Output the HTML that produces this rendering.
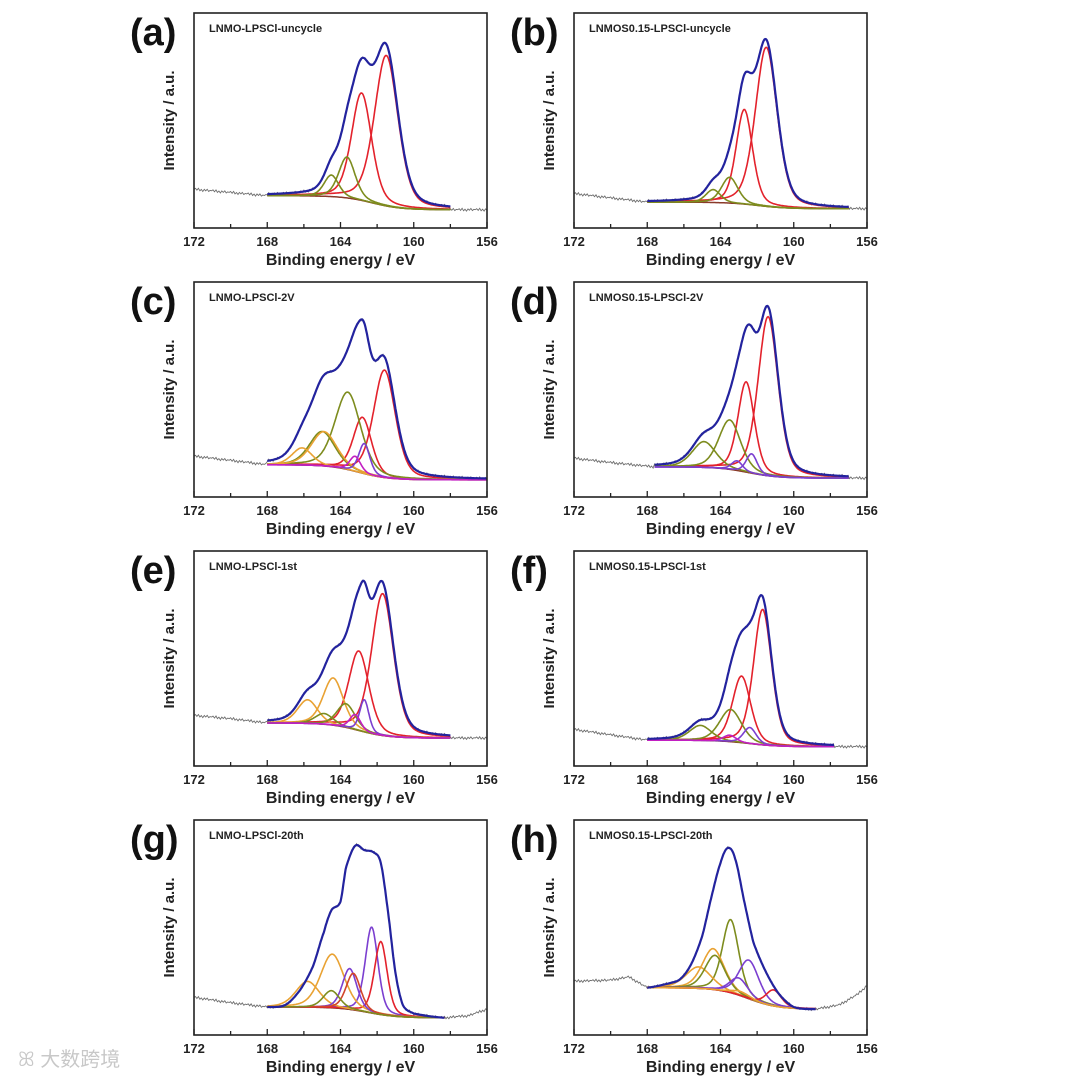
<!DOCTYPE html>
<html><head><meta charset="utf-8"><style>
html,body{margin:0;padding:0;background:#fff;}
svg{display:block;font-family:"Liberation Sans","Noto Sans CJK SC",sans-serif;}
</style></head><body>
<svg id="fig" width="1080" height="1080" viewBox="0 0 1080 1080" xmlns="http://www.w3.org/2000/svg">
<text x="18" y="1066" font-size="20" fill="#c8c8c8">ꕤ 大数跨境</text>
</svg>
<script>
// ---- data ----
const panelLetters = ["(a)","(b)","(c)","(d)","(e)","(f)","(g)","(h)"];
const panelTitles = ["LNMO-LPSCl-uncycle","LNMOS0.15-LPSCl-uncycle","LNMO-LPSCl-2V","LNMOS0.15-LPSCl-2V","LNMO-LPSCl-1st","LNMOS0.15-LPSCl-1st","LNMO-LPSCl-20th","LNMOS0.15-LPSCl-20th"];
const xTicks = [172,168,164,160,156];
const xTickLabels = ["172","168","164","160","156"];
// fit ranges [start eV, end eV]
const fitRanges = [[168,158],[168,157],[168,156],[167.6,157],[168,158],[168,157.8],[168,158.3],[168,158.8]];
// background [high, low, mid eV]
const bgParams = [[0.15,0.085,162.3],[0.12,0.09,162],[0.15,0.08,163],[0.14,0.088,162.5],[0.20,0.13,163],[0.12,0.09,162.5],[0.13,0.08,162.5],[0.22,0.12,162.5]];
// raw data outside the fit window [eV, intensity fraction]
const rawLeft = [[[172,0.18],[170,0.165],[168,0.15]],[[172,0.16],[170,0.14],[168,0.12]],[[172,0.19],[170,0.17],[168,0.15]],[[172,0.18],[170,0.16],[167.6,0.14]],[[172,0.235],[170,0.22],[168,0.20]],[[172,0.17],[170,0.145],[168,0.12]],[[172,0.175],[170,0.15],[168,0.13]],[[172,0.25],[170,0.255],[169,0.27],[168,0.22]]];
const rawRight = [[[158,0.085],[156,0.085]],[[157,0.09],[156,0.09]],[[156,0.08],[156,0.08]],[[157,0.088],[156,0.088]],[[158,0.13],[156,0.13]],[[157.8,0.09],[156,0.09]],[[158.3,0.08],[157,0.09],[156,0.12]],[[158.8,0.12],[157.5,0.14],[156.5,0.19],[156,0.23]]];
// peaks [center eV, height, sigma] (pseudo-Voigt shape)
const peaksA = [[161.5,0.70,0.65],[162.85,0.50,0.55],[163.65,0.19,0.45],[164.5,0.10,0.4]];
const peaksB = [[161.5,0.74,0.6],[162.7,0.44,0.45],[163.5,0.12,0.45],[164.4,0.06,0.4]];
const peaksC = [[161.6,0.50,0.6],[162.8,0.26,0.5],[163.6,0.36,0.7],[165.0,0.16,0.7],[164.9,0.16,0.7],[166.1,0.08,0.55],[162.7,0.14,0.3],[163.2,0.07,0.3]];
const peaksD = [[161.4,0.74,0.55],[162.6,0.42,0.45],[163.5,0.23,0.6],[164.9,0.12,0.65],[162.3,0.09,0.3],[163.1,0.045,0.3]];
const peaksE = [[161.7,0.66,0.6],[163.0,0.37,0.55],[164.4,0.22,0.55],[165.8,0.11,0.55],[163.7,0.11,0.5],[164.9,0.05,0.5],[162.7,0.15,0.25],[163.2,0.07,0.3]];
const peaksF = [[161.7,0.63,0.5],[162.85,0.31,0.5],[163.45,0.15,0.6],[165.1,0.07,0.6],[162.4,0.075,0.35],[163.5,0.03,0.35]];
const peaksG = [[162.3,0.40,0.35],[161.8,0.34,0.35],[164.45,0.25,0.65],[165.8,0.12,0.65],[163.5,0.19,0.4],[163.3,0.17,0.4],[164.5,0.08,0.45]];
const peaksH = [[163.45,0.34,0.45],[164.4,0.19,0.6],[165.2,0.10,0.7],[164.3,0.16,0.55],[162.45,0.18,0.55],[163.0,0.08,0.5],[161.1,0.075,0.42],[162.9,0.02,0.5]];
// explicit envelopes (null -> sum of peaks)
const envG = [[168,0.13],[167,0.14],[166.2,0.21],[165.5,0.32],[164.9,0.48],[164.5,0.58],[164.0,0.62],[163.7,0.78],[163.2,0.88],[162.7,0.86],[162.2,0.85],[161.8,0.80],[161.4,0.57],[161.0,0.29],[160.6,0.14],[160.0,0.10],[158.3,0.08]];
const envH = [[168,0.22],[166.8,0.24],[166.2,0.26],[165.6,0.33],[165,0.46],[164.5,0.64],[164.0,0.80],[163.6,0.87],[163.2,0.82],[162.7,0.62],[162.2,0.43],[161.5,0.29],[160.8,0.19],[160.0,0.13],[158.8,0.12]];
</script>
<script>
const RED="#e3222c",OLV="#7d8c1e",ORG="#e9a233",PUR="#7b3fd0",MAG="#c21fc2",BLU="#23239e";
const peakColors=[[RED,RED,OLV,OLV],[RED,RED,OLV,OLV],[RED,RED,OLV,OLV,ORG,ORG,PUR,MAG],[RED,RED,OLV,OLV,PUR,PUR],[RED,RED,ORG,ORG,OLV,OLV,PUR,MAG],[RED,RED,OLV,OLV,PUR,MAG],[PUR,RED,ORG,ORG,PUR,"#d2452a",OLV],[OLV,ORG,ORG,OLV,PUR,PUR,RED,ORG]];
const allPeaks=[peaksA,peaksB,peaksC,peaksD,peaksE,peaksF,peaksG,peaksH];
const allEnv=[null,null,null,null,null,null,envG,envH];
const boxes=[[194,13],[574,13],[194,282],[574,282],[194,551],[574,551],[194,820],[574,820]];
const BW=293,BH=215,ETA=0.35;
const wig=[0,0.006,-0.004,0.008,-0.006,0.003,-0.008,0.005,-0.003,0.007,-0.005,0.002];
const svg=document.getElementById('fig');
const NS="http://www.w3.org/2000/svg";
function mk(tag,attrs,parent){const e=document.createElementNS(NS,tag);for(const k in attrs)e.setAttribute(k,attrs[k]);(parent||svg).appendChild(e);return e;}
function peak(x,p){const hw=p[2]*1.1774;const u=(x-p[0])/hw;return p[1]*((1-ETA)*Math.exp(-Math.LN2*u*u)+ETA/(1+u*u));}
function interp(pts,x){for(let i=0;i<pts.length-1;i++){const a=pts[i],b=pts[i+1];if((x<=a[0]&&x>=b[0])){const t=(a[0]-x)/(a[0]-b[0]||1);return a[1]+(b[1]-a[1])*t;}}return pts[pts.length-1][1];}
function smooth(pts,x){
for(let i=0;i<pts.length-1;i++){const a=pts[i],b=pts[i+1];if(x<=a[0]&&x>=b[0]){const t=(a[0]-x)/(a[0]-b[0]||1);
const p0=(pts[i-1]||a)[1],p1=a[1],p2=b[1],p3=(pts[i+2]||b)[1];
return 0.5*((2*p1)+(-p0+p2)*t+(2*p0-5*p1+4*p2-p3)*t*t+(-p0+3*p1-3*p2+p3)*t*t*t);}}return pts[pts.length-1][1];}
for(let k=0;k<8;k++){
  const [bx,by]=boxes[k];
  const g=mk('g',{});
  
  
  const X=v=>bx+(172-v)/16*BW;
  const Y=f=>by+BH-f*BH;
  const bp=bgParams[k];
  const bg=x=>bp[1]+(bp[0]-bp[1])/(1+Math.exp(-(x-bp[2])/0.8));
  const fr=fitRanges[k];
  const envAt=x=>allEnv[k]?smooth(allEnv[k],x):bg(x)+allPeaks[k].reduce((s,p)=>s+peak(x,p),0);
  let d="";let i=0;
  for(let x=172;x>=156-1e-9;x-=0.08,i++){
    let f;
    if(x>fr[0]) f=interp(rawLeft[k],x);
    else if(x<fr[1]) f=interp(rawRight[k],x);
    else f=envAt(x);
    f+=wig[i%wig.length]*0.8;
    d+=(d?"L":"M")+X(x).toFixed(1)+","+Y(f).toFixed(1);
  }
  const raw=mk('path',{d:d,fill:"none",stroke:"#6e6e6e","stroke-width":"0.9"},g);
  
  
  d="";
  for(let x=fr[0];x>=fr[1]-1e-9;x-=0.05){d+=(d?"L":"M")+X(x).toFixed(1)+","+Y(bg(x)).toFixed(1);}
  const bgl=mk('path',{d:d,fill:"none",stroke:"#8a3a2a","stroke-width":"1.5"},g);
  
  
  allPeaks[k].forEach((p,j)=>{
    let dd="";
    for(let x=fr[0];x>=fr[1]-1e-9;x-=0.04){dd+=(dd?"L":"M")+X(x).toFixed(1)+","+Y(bg(x)+peak(x,p)).toFixed(1);}
    const c=mk('path',{d:dd,fill:"none",stroke:peakColors[k][j],"stroke-width":"1.6"},g);
    
    
  });
  d="";
  for(let x=fr[0];x>=fr[1]-1e-9;x-=0.04){
    d+=(d?"L":"M")+X(x).toFixed(1)+","+Y(envAt(x)).toFixed(1);
  }
  const env=mk('path',{d:d,fill:"none",stroke:BLU,"stroke-width":"2.2"},g);
  
  
  const r=mk('rect',{x:bx,y:by,width:BW,height:BH,fill:"none",stroke:"#222","stroke-width":"1.6"},g);
  
  
  for(let t=172;t>=156;t-=2){
    const major=xTicks.includes(t);
    const tk=mk('line',{x1:X(t),x2:X(t),y1:by+BH,y2:by+BH-(major?6:4),stroke:"#222","stroke-width":"1.3"},g);
    
    
  }
  xTicks.forEach((t,j)=>{
    const tl=mk('text',{x:X(t),y:by+BH+18,"font-size":"13","font-weight":"bold","text-anchor":"middle",fill:"#222"},g);
    tl.textContent=xTickLabels[j];
    
    
  });
  const xl=mk('text',{x:bx+BW/2,y:by+BH+37,"font-size":"16","font-weight":"bold","text-anchor":"middle",fill:"#222"},g);
  xl.textContent="Binding energy / eV";
  
  
  const yx=bx-20,yy=by+BH/2;
  const yl=mk('text',{x:yx,y:yy,"font-size":"15","font-weight":"bold","text-anchor":"middle",fill:"#222",transform:`rotate(-90 ${yx} ${yy})`},g);
  yl.textContent="Intensity / a.u.";
  
  
  const tt=mk('text',{x:bx+15,y:by+19,"font-size":"11","font-weight":"bold",fill:"#222"},g);
  tt.textContent=panelTitles[k];
  
  
  const pl=mk('text',{x:bx-64,y:by+32,"font-size":"38","font-weight":"bold",fill:"#111"},g);
  pl.textContent=panelLetters[k];
  
  
}
</script>
</body></html>
